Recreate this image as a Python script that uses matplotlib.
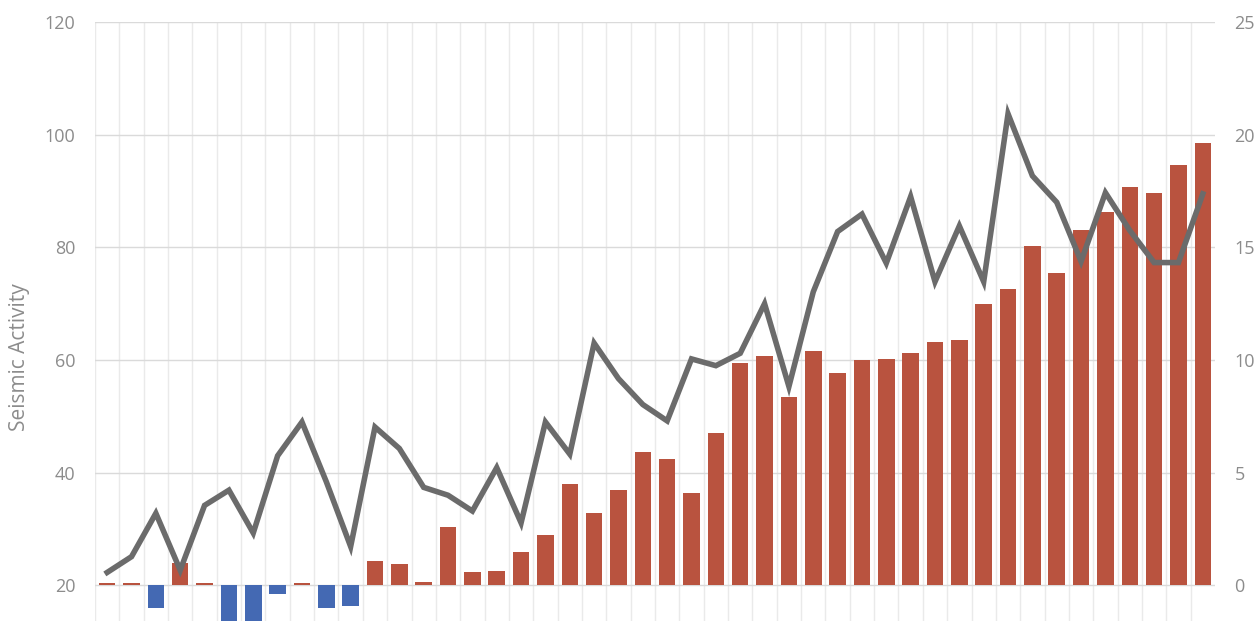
#============================IMPORTS================================
import matplotlib
matplotlib.use("Agg")
import matplotlib.pyplot as plt
import numpy as np

#============================DATA===================================
# Gray line, left axis (Seismic Activity)
seismic = [22.3, 25.1, 32.8, 22.7, 34.2, 36.9, 29.3, 43.0, 49.0, 38.4,
           26.9, 48.1, 44.3, 37.4, 36.0, 33.2, 40.9, 31.1, 49.0, 43.3,
           63.0, 56.7, 52.1, 49.2, 60.2, 59.0, 61.2, 70.0, 55.3, 72.1,
           82.8, 85.9, 77.2, 89.0, 73.9, 83.8, 73.9, 103.7, 92.7, 88.0,
           77.5, 89.7, 83.0, 77.3, 77.3, 89.5]

# Bars, right axis
change = [0.1, 0.1, -1.0, 1.0, 0.1, -2.5, -2.5, -0.4, 0.1, -1.0,
          -0.9, 1.1, 0.94, 0.17, 2.6, 0.58, 0.66, 1.49, 2.24, 4.52,
          3.2, 4.22, 5.93, 5.63, 4.08, 6.77, 9.87, 10.17, 8.35, 10.4,
          9.43, 10.0, 10.05, 10.31, 10.8, 10.89, 12.5, 13.17, 15.05, 13.85,
          15.78, 16.59, 17.68, 17.41, 18.64, 19.64]

left_ticks = [20, 40, 60, 80, 100, 120]
right_ticks = [0, 5, 10, 15, 20, 25]

#============================STYLE==================================
RED = "#B9533F"
BLUE = "#4469B3"
LINE = "#6B6B6B"
TICK = "#8C8C8C"
plt.rcParams["font.family"] = ["Open Sans", "DejaVu Sans"]

#============================PLOT===================================
fig = plt.figure(figsize=(12.58, 6.21), dpi=100)
ax1 = fig.add_axes([95 / 1258, 0.0, 1120 / 1258, 1 - 22 / 621])
ax2 = ax1.twinx()
ax2.xaxis.set_visible(True)  # twinx hides it, we want its grid

x = np.arange(len(seismic))
colors = [RED if v >= 0 else BLUE for v in change]

# bars behind, on the right scale
ax2.bar(x, change, width=0.68, color=colors, zorder=2)
ax2.set_ylim(-1.58, 25)
ax2.set_yticks(right_ticks)
ax2.set_xticks(x - 0.5, minor=True)
ax2.set_axisbelow(True)
ax2.grid(axis="y", color="#DADADA", linewidth=1.0)
ax2.grid(axis="x", which="minor", color="#EAEAEA", linewidth=1.0)

# line in front, on the left scale
ax1.set_zorder(ax2.get_zorder() + 1)
ax1.patch.set_visible(False)
ax1.plot(x, seismic, color=LINE, linewidth=4.0, solid_joinstyle="miter", zorder=3)
ax1.set_ylim(13.68, 120)
ax1.set_yticks(left_ticks)
ax1.set_xlim(-0.5, len(seismic) - 0.5)
ax1.set_ylabel("Seismic Activity", color=TICK, fontsize=15)
ax1.yaxis.set_label_coords(-0.058, 0.44)

for a in (ax1, ax2):
  for s in a.spines.values():
    s.set_visible(False)
  a.tick_params(axis="x", which="both", length=0, labelbottom=False)
  a.tick_params(axis="y", length=0, labelsize=13, labelcolor=TICK)
ax1.tick_params(axis="y", pad=14)
ax2.tick_params(axis="y", pad=14)

fig.savefig("out.png", dpi=100)
